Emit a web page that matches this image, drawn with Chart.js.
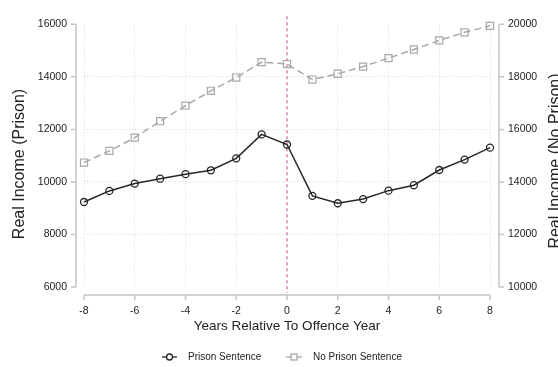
<!DOCTYPE html>
<html>
<head>
<meta charset="utf-8">
<script src="https://cdn.jsdelivr.net/npm/chart.js@4/dist/chart.umd.min.js"></script>
<style>
  html, body { margin: 0; padding: 0; background: #ffffff; }
  #wrap { width: 558px; height: 367px; }
</style>
</head>
<body>
<div id="wrap"><canvas id="c" width="558" height="367"></canvas></div>
<script>
// Years relative to the offence year
const years = [-8, -7, -6, -5, -4, -3, -2, -1, 0, 1, 2, 3, 4, 5, 6, 7, 8];
// Mean real income, offenders who received a prison sentence (left axis)
const prisonIncome = [9236, 9657, 9937, 10122, 10295, 10443, 10897, 11808, 11424,
                      9469, 9188, 9347, 9668, 9875, 10454, 10849, 11303];
// Mean real income, offenders without a prison sentence (right axis)
const noPrisonIncome = [14738, 15181, 15684, 16310, 16900, 17469, 17974, 18561, 18487,
                        17897, 18118, 18391, 18712, 19041, 19387, 19694, 19941];
// Tick labels
const xTicks = [-8, -6, -4, -2, 0, 2, 4, 6, 8];
const leftTicks = [6000, 8000, 10000, 12000, 14000, 16000];
const rightTicks = [10000, 12000, 14000, 16000, 18000, 20000];

const FONT = '"Liberation Sans", Arial, sans-serif';
const TEXT = '#222222';
const AXIS = '#c4c4c4';
const GRID = '#d8d8d8';
const DARK = '#262626';
const LIGHT = '#a8a8a8';

const toPoints = (vals) => years.map((x, i) => ({ x: x, y: vals[i] }));
const plain = (v) => String(v);

// Axis lines set off from the plot region, tick marks, the offence-year marker,
// axis titles and the legend.
const frame = {
  id: 'frame',
  beforeDatasetsDraw(chart) {
    const { ctx, scales: { x } } = chart;
    const x0 = x.getPixelForValue(0);
    ctx.save();
    ctx.strokeStyle = '#c8408a';
    ctx.lineWidth = 1;
    ctx.setLineDash([3, 3]);
    ctx.beginPath();
    ctx.moveTo(x0, chart.chartArea.top - 8);
    ctx.lineTo(x0, chart.chartArea.bottom + 6);
    ctx.stroke();
    ctx.restore();
  },
  afterDraw(chart) {
    const { ctx, chartArea, scales: { x, y, y2 } } = chart;
    ctx.save();
    ctx.strokeStyle = AXIS;
    ctx.lineWidth = 1.5;
    ctx.setLineDash([]);

    // left axis
    const lx = chartArea.left - 8;
    ctx.beginPath();
    ctx.moveTo(lx, y.getPixelForValue(leftTicks[0]));
    ctx.lineTo(lx, y.getPixelForValue(leftTicks[leftTicks.length - 1]));
    leftTicks.forEach(v => {
      const py = y.getPixelForValue(v);
      ctx.moveTo(lx, py); ctx.lineTo(lx - 5, py);
    });
    ctx.stroke();

    // right axis
    const rx = chartArea.right + 9;
    ctx.beginPath();
    ctx.moveTo(rx, y2.getPixelForValue(rightTicks[0]));
    ctx.lineTo(rx, y2.getPixelForValue(rightTicks[rightTicks.length - 1]));
    rightTicks.forEach(v => {
      const py = y2.getPixelForValue(v);
      ctx.moveTo(rx, py); ctx.lineTo(rx + 5, py);
    });
    ctx.stroke();

    // bottom axis
    const by = chartArea.bottom + 8;
    ctx.beginPath();
    ctx.moveTo(x.getPixelForValue(xTicks[0]), by);
    ctx.lineTo(x.getPixelForValue(xTicks[xTicks.length - 1]), by);
    xTicks.forEach(v => {
      const px = x.getPixelForValue(v);
      ctx.moveTo(px, by); ctx.lineTo(px, by + 5);
    });
    ctx.stroke();

    // axis titles
    ctx.fillStyle = TEXT;
    ctx.textAlign = 'center';
    ctx.textBaseline = 'middle';
    ctx.font = '13.5px ' + FONT;
    ctx.fillText('Years Relative To Offence Year', (chartArea.left + chartArea.right) / 2, 326);

    ctx.font = '16px ' + FONT;
    ctx.save();
    ctx.translate(20, 164);
    ctx.rotate(-Math.PI / 2);
    ctx.fillText('Real Income (Prison)', 0, 0);
    ctx.restore();

    ctx.save();
    ctx.translate(556, 161);
    ctx.rotate(-Math.PI / 2);
    ctx.fillText('Real Income (No Prison)', 0, 0);
    ctx.restore();

    // legend
    const ly = 357;
    ctx.font = '10px ' + FONT;
    ctx.textAlign = 'left';
    ctx.lineWidth = 1.3;
    ctx.strokeStyle = DARK;
    ctx.beginPath();
    ctx.moveTo(162, ly); ctx.lineTo(177, ly);
    ctx.stroke();
    ctx.beginPath();
    ctx.arc(169.5, ly, 3, 0, Math.PI * 2);
    ctx.fillStyle = '#ffffff';
    ctx.fill();
    ctx.stroke();
    ctx.fillStyle = TEXT;
    ctx.fillText('Prison Sentence', 188, ly);

    ctx.strokeStyle = LIGHT;
    ctx.beginPath();
    ctx.moveTo(286, ly); ctx.lineTo(302, ly);
    ctx.stroke();
    ctx.fillStyle = '#ffffff';
    ctx.fillRect(291, ly - 3, 6, 6);
    ctx.strokeRect(291, ly - 3, 6, 6);
    ctx.fillStyle = TEXT;
    ctx.fillText('No Prison Sentence', 313, ly);
    ctx.restore();
  }
};

new Chart(document.getElementById('c'), {
  type: 'line',
  data: {
    datasets: [
      {
        label: 'Prison Sentence',
        data: toPoints(prisonIncome),
        yAxisID: 'y',
        clip: false,
        borderColor: DARK,
        borderWidth: 1.5,
        pointStyle: 'circle',
        pointRadius: 3.5,
        pointBorderWidth: 1.3,
        pointBorderColor: DARK,
        pointBackgroundColor: 'rgba(0,0,0,0)',
        tension: 0
      },
      {
        label: 'No Prison Sentence',
        data: toPoints(noPrisonIncome),
        yAxisID: 'y2',
        clip: false,
        borderColor: LIGHT,
        borderWidth: 1.5,
        borderDash: [7, 4],
        pointStyle: 'rect',
        pointRadius: 5,
        pointBorderWidth: 1.2,
        pointBorderColor: LIGHT,
        pointBackgroundColor: 'rgba(0,0,0,0)',
        tension: 0
      }
    ]
  },
  options: {
    responsive: false,
    animation: false,
    devicePixelRatio: 1,
    layout: { padding: { top: 16, bottom: 0, left: 0, right: 0 } },
    plugins: { legend: { display: false }, tooltip: { enabled: false } },
    scales: {
      x: {
        type: 'linear',
        min: -8, max: 8,
        afterBuildTicks: (s) => { s.ticks = xTicks.map(v => ({ value: v })); },
        afterFit: (s) => { s.height = 80; },
        grid: {
          color: (c) => (c.tick && c.tick.value === 0) ? 'rgba(0,0,0,0)' : GRID,
          lineWidth: 1,
          drawTicks: false
        },
        border: { display: false, dash: [1, 2] },
        ticks: { padding: 18, color: TEXT, font: { family: FONT, size: 10.5 }, maxRotation: 0, callback: plain }
      },
      y: {
        position: 'left',
        min: 6000, max: 16000,
        afterBuildTicks: (s) => { s.ticks = leftTicks.map(v => ({ value: v })); },
        afterFit: (s) => { s.width = 84; },
        grid: {
          color: (c) => (c.tick && (c.tick.value === 6000 || c.tick.value === 16000)) ? 'rgba(0,0,0,0)' : GRID,
          lineWidth: 1,
          drawTicks: false
        },
        border: { display: false, dash: [1, 2] },
        ticks: { padding: 17, color: TEXT, font: { family: FONT, size: 10.5 }, callback: plain }
      },
      y2: {
        position: 'right',
        min: 10000, max: 20000,
        afterBuildTicks: (s) => { s.ticks = rightTicks.map(v => ({ value: v })); },
        afterFit: (s) => { s.width = 68; },
        grid: { drawOnChartArea: false, drawTicks: false },
        border: { display: false },
        ticks: { padding: 18, color: TEXT, font: { family: FONT, size: 10.5 }, callback: plain }
      }
    }
  },
  plugins: [frame]
});
</script>
</body>
</html>
